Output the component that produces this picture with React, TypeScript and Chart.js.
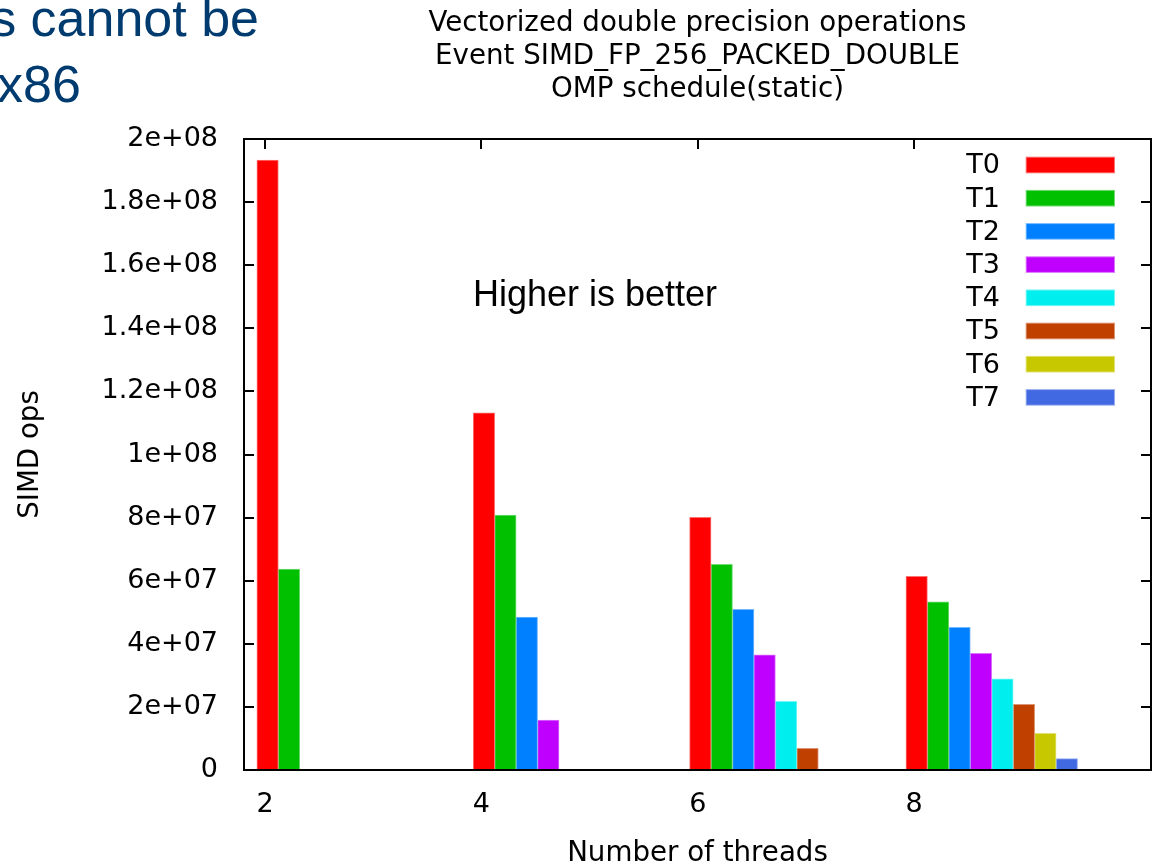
import React, { useEffect, useRef } from 'react';
import { Chart, registerables } from 'chart.js';

Chart.register(...registerables);

// ---- data ----
const THREADS = [2, 4, 6, 8];
const SERIES_LABELS = ['T0', 'T1', 'T2', 'T3', 'T4', 'T5', 'T6', 'T7'];
const T0 = [1.933e8, 1.132e8, 8.01e7, 6.14e7];
const T1 = [6.37e7, 8.08e7, 6.52e7, 5.33e7];
const T2 = [null, 4.85e7, 5.09e7, 4.52e7];
const T3 = [null, 1.58e7, 3.65e7, 3.7e7];
const T4 = [null, null, 2.18e7, 2.89e7];
const T5 = [null, null, 6.9e6, 2.08e7];
const T6 = [null, null, null, 1.16e7];
const T7 = [null, null, null, 3.6e6];
const SERIES_VALUES = [T0, T1, T2, T3, T4, T5, T6, T7];
const COLORS = ['#ff0000', '#00c000', '#0080ff', '#c000ff', '#00eeee', '#c04000', '#c8c800', '#4169e1'];
const TITLE_LINES = [
  'Vectorized double precision operations',
  'Event SIMD_FP_256_PACKED_DOUBLE',
  'OMP schedule(static)',
];
const Y_TITLE = 'SIMD ops';
const X_TITLE = 'Number of threads';
const NOTE = 'Higher is better';
const SLIDE_LINE_1 = 's cannot be';
const SLIDE_LINE_2 = 'x86';

// ---- layout / style constants ----
const W = 1156;
const H = 865;
const FONT = "'DejaVu Sans', sans-serif";
const GROUP_SHIFT = 0.718; // gnuplot histogram: group starts just left of tick
const BAR_W = 21.45;

function lighten(hex: string, f = 0.5) {
  const n = parseInt(hex.slice(1), 16);
  const r = (n >> 16) & 255, g = (n >> 8) & 255, b = n & 255;
  const m = (c: number) => Math.round(c + (255 - c) * f);
  return `rgb(${m(r)},${m(g)},${m(b)})`;
}

function gnuFmt(v: number) {
  if (Math.abs(v) < 1) return '0';
  const e = Math.floor(Math.log10(v) + 1e-9);
  const m = +(v / Math.pow(10, e)).toPrecision(6);
  return `${m}e+${String(e).padStart(2, '0')}`;
}

const decor = {
  id: 'gnuplotDecor',
  beforeDatasetsDraw(chart: any) {
    const { ctx, chartArea: a, scales } = chart;
    const x = scales.x, y = scales.y;
    ctx.save();
    ctx.strokeStyle = '#000';
    ctx.lineWidth = 2;
    ctx.beginPath();
    for (const t of y.ticks) {
      const py = Math.round(y.getPixelForValue(t.value));
      ctx.moveTo(a.left, py); ctx.lineTo(a.left + 10, py);
      ctx.moveTo(a.right, py); ctx.lineTo(a.right - 10, py);
    }
    for (const t of x.ticks) {
      const px = Math.round(x.getPixelForValue(t.value));
      ctx.moveTo(px, a.top); ctx.lineTo(px, a.top + 10);
      ctx.moveTo(px, a.bottom); ctx.lineTo(px, a.bottom - 10);
    }
    ctx.stroke();
    ctx.restore();
  },
  afterDatasetsDraw(chart: any) {
    const { ctx, chartArea: a } = chart;
    ctx.save();
    // frame
    ctx.strokeStyle = '#000';
    ctx.lineWidth = 2;
    ctx.strokeRect(a.left, a.top, a.right - a.left, a.bottom - a.top);
    // legend
    ctx.font = `27px ${FONT}`;
    ctx.textAlign = 'right';
    ctx.textBaseline = 'alphabetic';
    chart.data.datasets.forEach((ds: any, i: number) => {
      const top = a.top + 17.7 + i * 33.2;
      ctx.fillStyle = '#000';
      ctx.fillText(ds.label, a.right - 151, top + 16.6);
      ctx.fillStyle = ds.borderColor;
      ctx.fillRect(a.right - 125.3, top, 89.3, 16.6);
      ctx.fillStyle = ds.backgroundColor;
      ctx.fillRect(a.right - 124.3, top + 1, 87.3, 14.6);
    });
    // note
    ctx.font = "36px 'Liberation Sans', Arial, sans-serif";
    ctx.textAlign = 'left';
    ctx.fillStyle = '#000';
    ctx.fillText(NOTE, 473, 306);
    // title
    ctx.font = `27.7px ${FONT}`;
    ctx.textAlign = 'center';
    const cx = (a.left + a.right) / 2;
    TITLE_LINES.forEach((line, i) => {
      ctx.fillText(line, cx, 31 + i * 33.2);
    });
    ctx.restore();
  },
};

export default function App() {
  const ref = useRef<HTMLCanvasElement | null>(null);
  useEffect(() => {
    if (!ref.current) return;
    const datasets = SERIES_VALUES.map((vals, i) => ({
      label: SERIES_LABELS[i],
      data: THREADS.map((t, j) => (vals[j] == null ? null : { x: t + GROUP_SHIFT, y: vals[j] })).filter(
        (p) => p !== null
      ),
      backgroundColor: COLORS[i],
      borderColor: lighten(COLORS[i], 0.45),
      borderWidth: 1,
      barThickness: BAR_W,
    }));
    const chart = new Chart(ref.current, {
      type: 'bar',
      data: { datasets: datasets as any },
      options: {
        animation: false,
        responsive: false,
        devicePixelRatio: 1,
        layout: { padding: { left: 0, top: 139, right: 5, bottom: 0 } },
        plugins: { legend: { display: false }, title: { display: false }, tooltip: { enabled: false } },
        scales: {
          x: {
            type: 'linear',
            min: 1.806,
            max: 10.19,
            offset: false,
            grid: { display: false, drawTicks: false },
            border: { display: false },
            afterBuildTicks: (s: any) => {
              s.ticks = THREADS.map((v) => ({ value: v }));
            },
            afterFit: (s: any) => {
              s.height = 95;
            },
            ticks: {
              color: '#000',
              font: { family: FONT, size: 27 },
              padding: 19,
              callback: (v: any) => String(v),
            },
            title: {
              display: true,
              text: X_TITLE,
              color: '#000',
              font: { family: FONT, size: 27.7 },
              padding: { top: 0, bottom: -5 },
            },
          },
          y: {
            min: 0,
            max: 2e8,
            grid: { display: false, drawTicks: false },
            border: { display: false },
            afterFit: (s: any) => {
              s.width = 244;
            },
            ticks: {
              stepSize: 2e7,
              color: '#000',
              font: { family: FONT, size: 27 },
              padding: 26,
              callback: (v: any) => gnuFmt(Number(v)),
            },
            title: {
              display: true,
              text: Y_TITLE,
              color: '#000',
              font: { family: FONT, size: 27.7 },
              padding: { top: 14, bottom: 0 },
            },
          },
        },
      } as any,
      plugins: [decor],
    });
    return () => chart.destroy();
  }, []);

  const slideStyle: React.CSSProperties = {
    position: 'absolute',
    fontFamily: "'Liberation Sans', Arial, sans-serif",
    fontSize: 52,
    lineHeight: '52px',
    color: '#003b6f',
    whiteSpace: 'nowrap',
  };

  return (
    <div style={{ position: 'absolute', left: 0, top: 0, width: W, height: H, background: '#fff', overflow: 'hidden' }}>
      <canvas ref={ref} width={W} height={H} style={{ display: 'block' }} />
      <div style={{ ...slideStyle, right: W - 259, top: -8 }}>{SLIDE_LINE_1}</div>
      <div style={{ ...slideStyle, left: -3, top: 58 }}>{SLIDE_LINE_2}</div>
    </div>
  );
}
